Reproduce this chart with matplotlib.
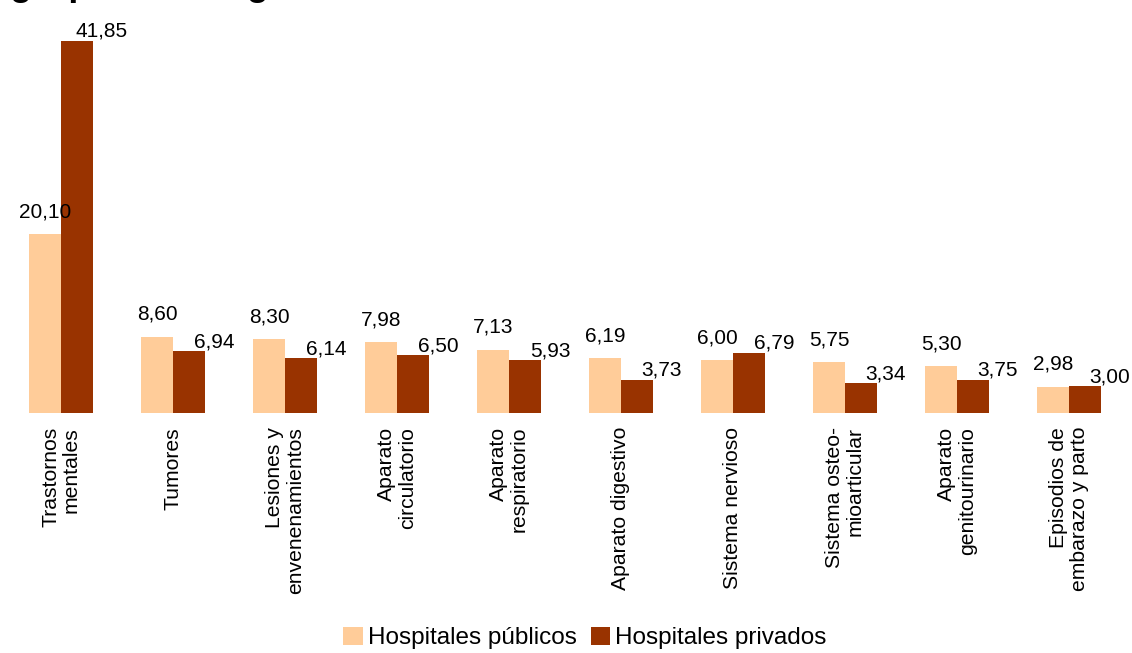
import numpy as np
import matplotlib
matplotlib.use("Agg")
import matplotlib.pyplot as plt

# data
categorias = ["Trastornos\nmentales", "Tumores", "Lesiones y\nenvenenamientos",
              "Aparato\ncirculatorio", "Aparato\nrespiratorio", "Aparato digestivo",
              "Sistema nervioso", "Sistema osteo-\nmioarticular", "Aparato\ngenitourinario",
              "Episodios de\nembarazo y parto"]
publicos = [20.10, 8.60, 8.30, 7.98, 7.13, 6.19, 6.00, 5.75, 5.30, 2.98]
privados = [41.85, 6.94, 6.14, 6.50, 5.93, 3.73, 6.79, 3.34, 3.75, 3.00]
series = ["Hospitales públicos", "Hospitales privados"]

plt.rcParams['font.family'] = ['Liberation Sans', 'DejaVu Sans']

fig = plt.figure(figsize=(11.32, 6.53), dpi=100)
ax = fig.add_axes([5 / 1132, 240 / 653, 1120 / 1132, 372 / 653])

x = np.arange(len(categorias))
w = 32 / 112
b1 = ax.bar(x - w / 2, publicos, w, color="#FFCC99", label=series[0])
b2 = ax.bar(x + w / 2, privados, w, color="#993300", label=series[1])

fmt = lambda v: ("%.2f" % v).replace(".", ",")
for r, v in zip(b1, publicos):
    ax.annotate(fmt(v), (r.get_x() + r.get_width() / 2, v), xytext=(0, 12),
                textcoords="offset points", ha="center", va="baseline", fontsize=15)
for r, v in zip(b2, privados):
    ax.annotate(fmt(v), (r.get_x() + r.get_width() / 2, v), xytext=(18, 3),
                textcoords="offset points", ha="center", va="baseline", fontsize=15)

ax.set_xlim(-0.5, len(categorias) - 0.5)
ax.set_ylim(0, 41.85)
ax.set_xticks(x)
ax.set_xticklabels(categorias, rotation=90, fontsize=15.2, va="top", ha="center",
                   multialignment="right", linespacing=1.1)
ax.tick_params(axis="x", length=0, pad=10)
ax.set_yticks([])
for s in ax.spines.values():
    s.set_visible(False)

# title, cut off by the top edge in the reference
fig.text(10 / 1132, 1 + 5 / 653, "grupos de diagnóstico", fontsize=26,
         fontweight="bold", ha="left", va="baseline")

fig.legend(loc="center", bbox_to_anchor=(585 / 1132, 1 - 638 / 653), ncol=2, frameon=False,
           fontsize=17.5, handlelength=0.8, handleheight=0.8, handletextpad=0.2,
           columnspacing=0.6)

fig.savefig("out.png", dpi=100)
